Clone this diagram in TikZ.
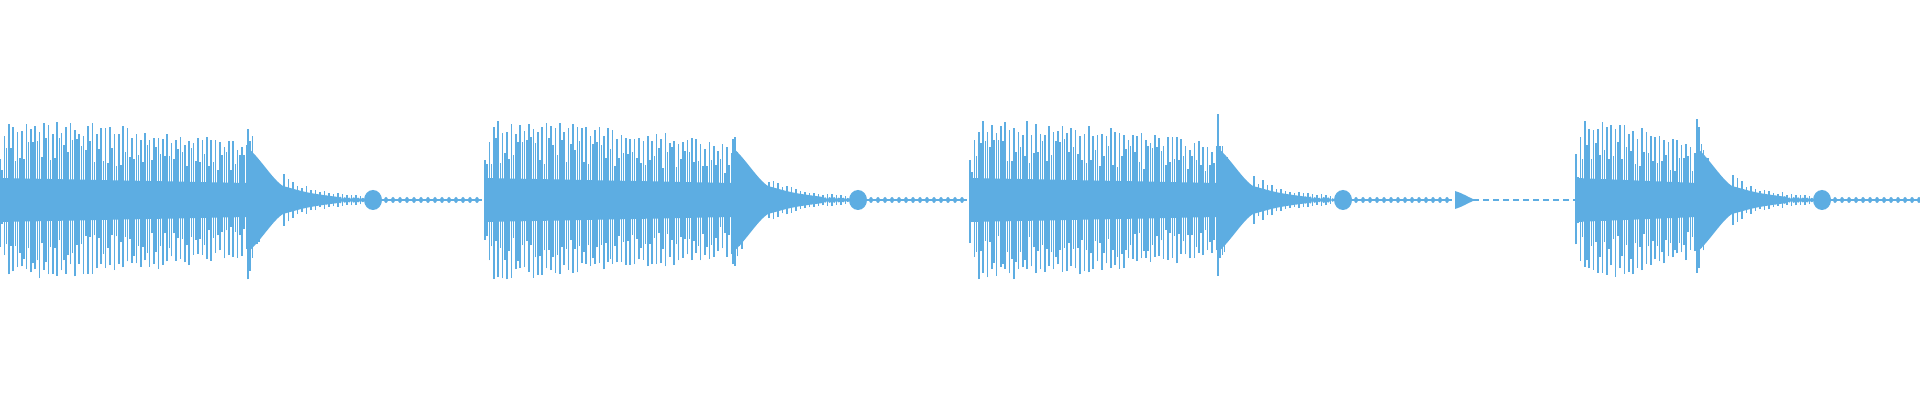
\documentclass[tikz,border=0pt]{standalone}
\definecolor{wave}{HTML}{5DADE2}
\newcommand\wburst[3]{%
 \pgfmathsetmacro\wA{#1+#2}
 \fill[wave] (#1,200-22) -- (#1+#2,200-17) -- (#1+#2,200+17) -- (#1,200+22) -- cycle;
 \foreach \i in {0,4.4,...,#2}{
   \pgfmathsetmacro\e{(80-24*(\i/#2)^2)*min(1,0.6+\i/20)}
   \pgfmathsetmacro\h{\e*(0.82+0.18*rnd)}
   \pgfmathsetmacro\hh{\e*(0.82+0.18*rnd)}
   \draw[wave,line width=0.85pt] (#1+\i,200-\h) -- (#1+\i,200+\hh);
   \pgfmathsetmacro\h{\e*(0.45+0.35*rnd)}
   \pgfmathsetmacro\hh{\e*(0.45+0.35*rnd)}
   \draw[wave,line width=0.85pt] (#1+\i+2.2,200-\h) -- (#1+\i+2.2,200+\hh);
 }
 \fill[wave] (\wA,200-52) .. controls (\wA+12,200-42) and (\wA+25,200-20) .. (\wA+35,200-14) .. controls (\wA+60,200-7) .. (\wA+90,200-3) -- (\wA+90,200+3) .. controls (\wA+60,200+7) .. (\wA+35,200+14) .. controls (\wA+25,200+20) and (\wA+12,200+42) .. (\wA,200+52) -- cycle;
 \foreach \j in {0,2.2,...,34}{
   \pgfmathsetmacro\h{(86*exp(-\j/16))*(0.7+0.3*rnd)}
   \pgfmathsetmacro\hh{(86*exp(-\j/16))*(0.7+0.3*rnd)}
   \draw[wave,line width=0.8pt] (\wA+\j,200-\h) -- (\wA+\j,200+\hh);
 }
 \foreach \j in {36,40.5,...,116}{
   \pgfmathsetmacro\h{(22*exp(-(\j-36)/28)+4)*(0.7+0.3*rnd)}
   \draw[wave,line width=0.7pt] (\wA+\j,200-\h) -- (\wA+\j,200+\h);
   \fill[wave] (\wA+\j+2.2,200) ellipse [x radius=1.8,y radius=\h*0.5];
 }
 \fill[wave] (\wA+125,200) ellipse [x radius=9,y radius=10];
 \draw[wave,line width=0.6pt] (\wA+120,200) -- (#3,200);
 \pgfmathsetmacro\rs{\wA+138}
 \pgfmathsetmacro\rt{\wA+145}
 \foreach \k in {\rs,\rt,...,#3}{
   \fill[wave] (\k,200) ellipse [x radius=2,y radius=3];
 }
}
\begin{document}
\begin{tikzpicture}[x=0.5pt,y=0.5pt]
\useasboundingbox (0,0) rectangle (1920,400);
\fill[white] (0,0) rectangle (1920,400);
\pgfmathsetseed{7}
\wburst{0}{248}{482}
\wburst{485}{248}{967}
\wburst{970}{248}{1452}
\fill[wave] (1455,200-9) .. controls (1462,200-7) and (1468,200-3) .. (1473,200-1) -- (1473,200+1) .. controls (1468,200+3) and (1462,200+7) .. (1455,200+9) -- cycle;
\draw[wave,line width=0.6pt,dash pattern=on 3pt off 2pt] (1473,200) -- (1576,200);
\wburst{1576}{121}{1920}
\end{tikzpicture}
\end{document}
